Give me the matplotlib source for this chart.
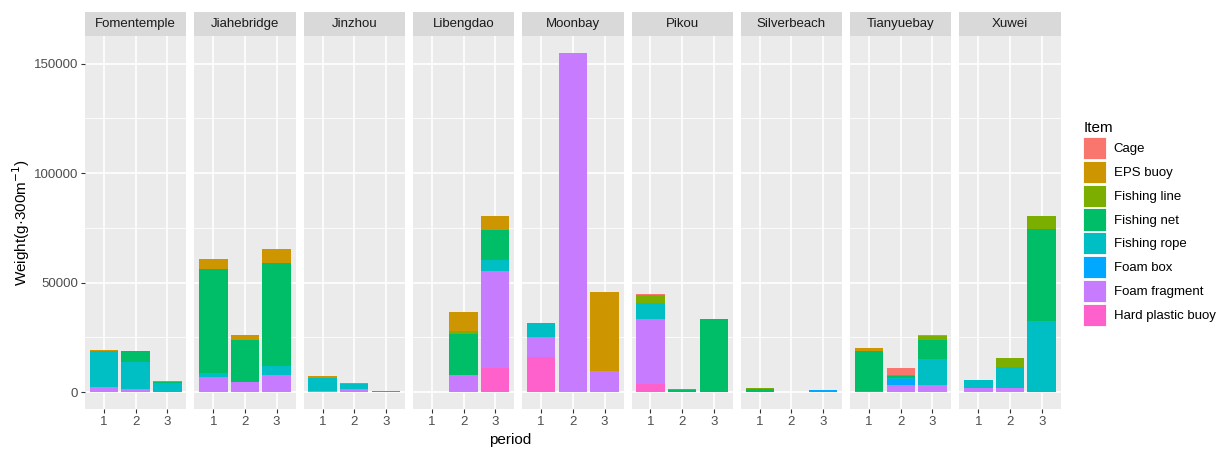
import matplotlib
matplotlib.use('Agg')
import matplotlib.pyplot as plt
from matplotlib.patches import Patch
import numpy as np

plt.rcParams['font.family'] = ['Liberation Sans', 'DejaVu Sans']

sites = ['Fomentemple', 'Jiahebridge', 'Jinzhou', 'Libengdao', 'Moonbay',
         'Pikou', 'Silverbeach', 'Tianyuebay', 'Xuwei']
periods = [1, 2, 3]
items = ['Cage', 'EPS buoy', 'Fishing line', 'Fishing net', 'Fishing rope',
         'Foam box', 'Foam fragment', 'Hard plastic buoy']
colors = ['#F8766D', '#CD9600', '#7CAE00', '#00BE67', '#00BFC4',
          '#00A9FF', '#C77CFF', '#FF61CC']

# weight per site (rows) and period (columns), g per 300 m
cage = [[0, 0, 0], [0, 0, 0], [0, 0, 0], [0, 0, 0], [0, 0, 0],
        [450, 0, 0], [0, 0, 0], [0, 3300, 400], [0, 0, 0]]
eps_buoy = [[500, 0, 500], [4600, 2300, 6400], [1100, 450, 0], [0, 8500, 6600], [0, 0, 35900],
            [0, 0, 0], [0, 0, 0], [1200, 0, 0], [0, 0, 0]]
fishing_line = [[0, 0, 0], [0, 0, 0], [0, 0, 0], [0, 1800, 0], [0, 0, 0],
                [4000, 700, 0], [500, 0, 0], [0, 700, 1700], [0, 4300, 5800]]
fishing_net = [[0, 5200, 700], [47800, 19000, 46900], [0, 0, 0], [0, 18700, 13700], [0, 0, 0],
               [0, 800, 33500], [1500, 0, 0], [18300, 700, 8800], [0, 0, 42300]]
fishing_rope = [[16600, 12500, 4000], [1700, 0, 4300], [5800, 2700, 700], [0, 0, 5000], [6400, 0, 0],
                [7000, 0, 0], [0, 0, 0], [450, 500, 12200], [3800, 9700, 32400]]
foam_box = [[0, 0, 0], [0, 0, 0], [0, 0, 0], [0, 0, 0], [0, 0, 0],
            [0, 0, 0], [0, 0, 900], [0, 3000, 0], [0, 0, 0]]
foam_fragment = [[2100, 1200, 0], [6900, 4600, 7600], [450, 1200, 0], [0, 7600, 44500], [9100, 154900, 9600],
                 [30000, 0, 0], [0, 0, 0], [0, 3000, 3000], [1700, 1700, 0]]
hard_plastic_buoy = [[0, 0, 0], [0, 0, 0], [0, 0, 0], [0, 0, 10800], [16100, 0, 0],
                     [3500, 0, 0], [0, 0, 0], [0, 0, 0], [0, 0, 0]]

series = [cage, eps_buoy, fishing_line, fishing_net, fishing_rope,
          foam_box, foam_fragment, hard_plastic_buoy]

W, H = 1217, 449
fig = plt.figure(figsize=(W / 100, H / 100), dpi=100)

# shared y range with ggplot-style 5% expansion
totals = np.sum([np.array(s) for s in series], axis=0)
ymax_data = totals.max()
pad = ymax_data * 0.05
ylim = (-pad, ymax_data + pad)

left0, pw, gap = 85, 101.3, 8.0
top, strip_h, bottom = 12, 24, 409
txt = '#4D4D4D'

for i, site in enumerate(sites):
    x0 = left0 + i * (pw + gap)
    ax = fig.add_axes([x0 / W, 1 - bottom / H, pw / W, (bottom - top - strip_h) / H])
    ax.set_facecolor('#EBEBEB')
    ax.set_xlim(0.4, 3.6)
    ax.set_ylim(*ylim)
    for y in [25000, 75000, 125000]:
        ax.axhline(y, color='white', lw=0.6, zorder=0)
    for y in [0, 50000, 100000, 150000]:
        ax.axhline(y, color='white', lw=1.2, zorder=0)
    for x in periods:
        ax.axvline(x, color='white', lw=1.2, zorder=0)

    # stack bottom-up: last item at the bottom, first item on top
    base = np.zeros(3)
    for name, col, s in reversed(list(zip(items, colors, series))):
        vals = np.array(s[i], dtype=float)
        ax.bar(periods, vals, width=0.9, bottom=base, color=col, linewidth=0, zorder=2)
        base += vals

    for sp in ax.spines.values():
        sp.set_visible(False)
    ax.set_xticks(periods)
    ax.set_xticklabels([str(p) for p in periods])
    ax.set_yticks([0, 50000, 100000, 150000])
    ax.tick_params(axis='both', colors='#333333', labelcolor=txt, labelsize=9.5,
                   length=3, width=0.8, pad=2)
    if i > 0:
        ax.tick_params(axis='y', left=False, labelleft=False)
    else:
        ax.set_ylabel('Weight(g·300m$^{-1}$)', fontsize=11, color='black', labelpad=1)

    # facet strip
    sax = fig.add_axes([x0 / W, 1 - (top + strip_h) / H, pw / W, strip_h / H])
    sax.set_facecolor('#D9D9D9')
    sax.set_xticks([])
    sax.set_yticks([])
    for sp in sax.spines.values():
        sp.set_visible(False)
    sax.text(0.5, 0.5, site, ha='center', va='center', fontsize=9.5, color='#1A1A1A',
             transform=sax.transAxes)

fig.text(510 / W, 1 - 440 / H, 'period', ha='center', va='center', fontsize=11, color='black')

handles = [Patch(facecolor=c, edgecolor='white', linewidth=0.6, label=n) for n, c in zip(items, colors)]
leg = fig.legend(handles=handles, title='Item', loc='upper left',
                 bbox_to_anchor=(1078 / W, 1 - 116 / H), frameon=False,
                 fontsize=9.5, title_fontsize=11, handlelength=1.7, handleheight=2.2,
                 labelspacing=0.13, handletextpad=0.6, borderaxespad=0)
leg._legend_box.align = 'left'

fig.savefig('out.png', dpi=100)
